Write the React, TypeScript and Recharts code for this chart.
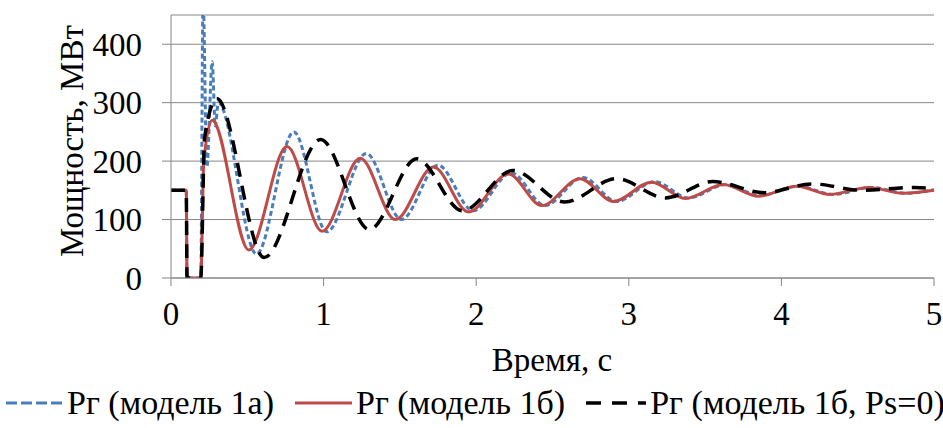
import React from 'react';
import { LineChart, Line, XAxis, YAxis, CartesianGrid, Legend } from 'recharts';

// Рг (модель 1а)
const timeA = [0, 0.1, 0.105, 0.195, 0.21, 0.235, 0.27, 0.29, 0.31, 0.56, 0.805, 1.02, 1.28, 1.51, 1.75, 1.98, 2.23, 2.45, 2.7, 2.92, 3.17, 3.39, 3.64, 3.86, 4.11, 4.34, 4.59, 4.82, 5];
const powerA = [150, 150, 0, 0, 480, 190, 370, 260, 300, 41, 250, 79, 213, 100, 193, 115, 180, 124, 172, 131, 165, 137, 160, 141, 157, 143, 155, 145, 151];

// Рг (модель 1б)
const timeB = [0, 0.1, 0.105, 0.195, 0.215, 0.27, 0.51, 0.76, 0.99, 1.24, 1.47, 1.72, 1.95, 2.21, 2.43, 2.68, 2.9, 3.15, 3.37, 3.62, 3.85, 4.1, 4.32, 4.57, 4.8, 5];
const powerB = [150, 150, 0, 0, 200, 270, 48, 225, 80, 205, 100, 190, 113, 178, 124, 170, 131, 164, 136, 160, 140, 157, 143, 155, 145, 150];

// Рг (модель 1б, Ps=0)
const timeC = [0, 0.1, 0.105, 0.195, 0.22, 0.3, 0.61, 0.98, 1.3, 1.61, 1.91, 2.24, 2.58, 2.92, 3.24, 3.55, 3.89, 4.2, 4.53, 4.87, 5];
const powerC = [150, 150, 0, 0, 240, 307, 35, 237, 83, 204, 115, 184, 130, 170, 137, 165, 146, 161, 150, 155, 153];

const xTicks = [0, 1, 2, 3, 4, 5];
const yTicks = [0, 100, 200, 300, 400];

const seriesNames = ['Рг (модель 1а)', 'Рг (модель 1б)', 'Рг (модель 1б, Ps=0)'];

const toRows = (t: number[], p: number[]) => t.map((x, i) => ({ t: x, p: p[i] }));

const FONT = '"Liberation Serif"';
const FS = 33;
const GRID = '#868686';

const styles = [
  { color: '#4a7ebb', dash: '5 3', width: 3, icon: 57, iconDash: '11 4', gap: 6 },
  { color: '#be4b48', dash: undefined, width: 3, icon: 57, iconDash: undefined, gap: 21 },
  { color: '#000000', dash: '14 9', width: 3.5, icon: 60, iconDash: '15 11', gap: 21 },
];

const LegendContent = () => (
  <div style={{ height: 50, display: 'flex', alignItems: 'center', fontFamily: FONT, fontSize: 34, color: '#000', whiteSpace: 'nowrap' }}>
    {seriesNames.map((name, i) => (
      <div key={name} style={{ display: 'flex', alignItems: 'center', marginLeft: styles[i].gap }}>
        <svg width={styles[i].icon} height={10} style={{ marginRight: 4 }}>
          <line x1={0} y1={5} x2={styles[i].icon} y2={5} stroke={styles[i].color} strokeWidth={styles[i].width} strokeDasharray={styles[i].iconDash} />
        </svg>
        <span>{name}</span>
      </div>
    ))}
  </div>
);

export default function App() {
  const data = [toRows(timeA, powerA), toRows(timeB, powerB), toRows(timeC, powerC)];
  return (
    <div style={{ position: 'absolute', left: 0, top: 0, background: '#fff' }}>
      <LineChart width={943} height={428} margin={{ top: 15, right: 9, left: 0, bottom: 0 }}>
        <CartesianGrid vertical={false} stroke={GRID} strokeWidth={1} />
        <XAxis
          type="number"
          dataKey="t"
          domain={[0, 5]}
          ticks={xTicks}
          height={100}
          stroke={GRID}
          tickSize={8}
          tickMargin={16}
          tick={{ fill: '#000', fontSize: FS, fontFamily: FONT }}
          label={{
            content: () => (
              <text x={552} y={360} textAnchor="middle" dominantBaseline="central" fontFamily={FONT} fontSize={FS} fill="#000">
                Время, с
              </text>
            ),
          }}
        />
        <YAxis
          type="number"
          domain={[0, 450]}
          allowDataOverflow
          ticks={yTicks}
          width={171}
          stroke={GRID}
          tickSize={9}
          tickMargin={20}
          tick={{ fill: '#000', fontSize: FS, fontFamily: FONT }}
          label={{
            content: () => (
              <text x={72} y={141} transform="rotate(-90 72 141)" textAnchor="middle" dominantBaseline="central" fontFamily={FONT} fontSize={FS} fill="#000">
                Мощность, МВт
              </text>
            ),
          }}
        />
        <Legend verticalAlign="bottom" content={LegendContent} />
        {data.map((rows, i) => (
          <Line
            key={seriesNames[i]}
            data={rows}
            dataKey="p"
            name={seriesNames[i]}
            type="monotone"
            stroke={styles[i].color}
            strokeWidth={styles[i].width}
            strokeDasharray={styles[i].dash}
            dot={false}
            activeDot={false}
            isAnimationActive={false}
          />
        ))}
      </LineChart>
    </div>
  );
}
